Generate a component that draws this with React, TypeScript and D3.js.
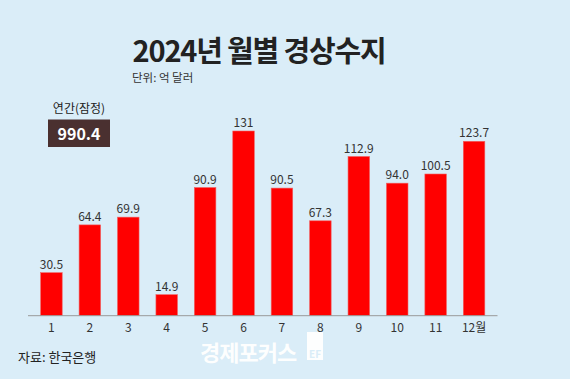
import React from "react";
import * as d3 from "d3";

const months = ["1", "2", "3", "4", "5", "6", "7", "8", "9", "10", "11", "12월"];
const values = [30.5, 64.4, 69.9, 14.9, 90.9, 131, 90.5, 67.3, 112.9, 94.0, 100.5, 123.7];
const valueLabels = ["30.5", "64.4", "69.9", "14.9", "90.9", "131", "90.5", "67.3", "112.9", "94.0", "100.5", "123.7"];
const title = "2024년 월별 경상수지";
const unit = "단위: 억 달러";
const annualLabel = "연간(잠정)";
const annualValue = "990.4";
const source = "자료: 한국은행";

const W = 570, H = 379;
const FONT = "'Noto Sans CJK KR', 'Noto Sans', sans-serif";

export default function App() {
  const baseline = 315.7;
  const x = d3.scaleBand().domain(months).range([28, 497.5]).paddingInner(0.44).paddingOuter(0.33);
  const y = d3.scaleLinear().domain([0, 131]).range([baseline, 131]);
  return (
    <svg width={W} height={H} style={{ position: "absolute", left: 0, top: 0 }} fontFamily={FONT}>
      <rect x={0} y={0} width={W} height={H} fill="#daedf8" />
      <text x={259} y={62} textAnchor="middle" fontSize={29} fontWeight={700} fill="#222" letterSpacing={-1.2}>{title}</text>
      <text x={132} y={82} fontSize={11.5} fill="#333">{unit}</text>
      <text x={79} y={113} textAnchor="middle" fontSize={12} fill="#222">{annualLabel}</text>
      <rect x={48} y={119.5} width={62} height={27.5} fill="#4a3030" />
      <text x={79} y={139.5} textAnchor="middle" fontSize={16} fontWeight={700} fill="#fff">{annualValue}</text>
      {months.map((m, i) => (
        <g key={m}>
          <rect x={x(m)} y={y(values[i])} width={x.bandwidth()} height={baseline - y(values[i])} fill="#ff0000" stroke="#f06060" strokeWidth={0.6} />
          <text x={x(m)! + x.bandwidth() / 2} y={y(values[i]) - 4} textAnchor="middle" fontSize={12} fill="#333">{valueLabels[i]}</text>
          <text x={x(m)! + x.bandwidth() / 2} y={331.5} textAnchor="middle" fontSize={12} fill="#333">{m}</text>
        </g>
      ))}
      <line x1={28} x2={497.5} y1={baseline} y2={baseline} stroke="#999" strokeWidth={1} />
      <text x={18} y={361.5} fontSize={13} fill="#222">{source}</text>
      <g opacity={0.95}>
        <text x={200} y={361} fontSize={22} fontWeight={700} fill="#ffffff" letterSpacing={-1}>경제포커스</text>
        <rect x={307} y={332} width={16} height={28} fill="#ffffff" />
        <text x={315} y={358} textAnchor="middle" fontSize={10} fontWeight={700} fill="#daedf8">EF</text>
      </g>
    </svg>
  );
}
